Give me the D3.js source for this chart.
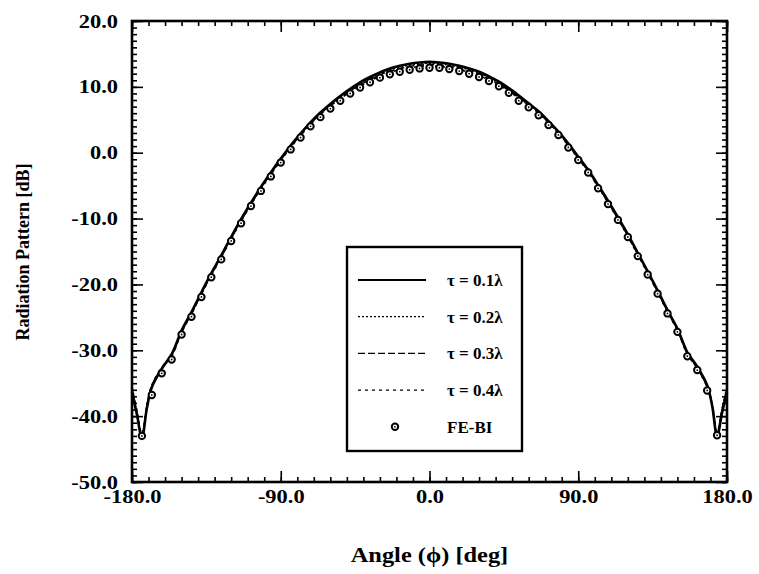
<!DOCTYPE html>
<html>
<head>
<meta charset="utf-8">
<script src="https://cdn.jsdelivr.net/npm/d3@7"></script>
<style>
	body { margin: 0; background: #fff; }
	text { font-family: "Liberation Serif", "Times New Roman", serif; font-weight: bold; fill: #000; }
</style>
</head>
<body>
<div id="chart"></div>
<script>
// tick values
const angleTicks = [-180, -90, 0, 90, 180];
const dbTicks = [-50, -40, -30, -20, -10, 0, 10, 20];

// computed curves (angle grid shared by the four thickness cases)
const lineAngles = [-180, -177, -174, -171, -168, -162, -156, -150, -144, -138, -132, -126, -120, -114, -108, -102, -96, -90, -84, -78, -72, -66, -60, -54, -48, -42, -36, -30, -24, -18, -12, -6, 0, 6, 12, 18, 24, 30, 36, 42, 48, 54, 60, 66, 72, 78, 84, 90, 96, 102, 108, 114, 120, 126, 132, 138, 144, 150, 156, 162, 168, 171, 174, 177, 180];
const tau01 = [-36.3, -39.8, -43.3, -38.8, -35.6, -32.8, -30.6, -27.0, -24.2, -21.2, -18.3, -15.6, -12.8, -10.1, -7.6, -5.2, -3.0, -0.9, 1.1, 2.9, 4.6, 6.1, 7.4, 8.6, 9.7, 10.7, 11.5, 12.2, 12.8, 13.2, 13.5, 13.7, 13.8, 13.7, 13.5, 13.2, 12.8, 12.3, 11.6, 10.8, 9.8, 8.7, 7.5, 6.3, 4.8, 3.2, 1.4, -0.6, -2.6, -4.9, -7.3, -9.8, -12.4, -15.2, -18.0, -20.9, -23.9, -26.7, -30.3, -32.5, -35.3, -38.4, -43.0, -39.5, -36.3];
const tau02 = [-36.0, -39.6, -43.1, -38.6, -35.5, -32.7, -30.7, -27.1, -24.3, -21.3, -18.4, -15.7, -12.9, -10.2, -7.7, -5.3, -3.1, -1.0, 1.0, 2.8, 4.5, 6.0, 7.3, 8.5, 9.6, 10.5, 11.3, 12.0, 12.6, 13.0, 13.3, 13.5, 13.6, 13.5, 13.3, 13.0, 12.6, 12.1, 11.4, 10.6, 9.7, 8.6, 7.4, 6.2, 4.7, 3.1, 1.3, -0.7, -2.7, -5.0, -7.4, -9.9, -12.5, -15.3, -18.1, -21.0, -24.0, -26.8, -30.4, -32.6, -35.4, -38.3, -42.9, -39.3, -36.0];
const tau03 = [-35.8, -39.4, -42.9, -38.5, -35.4, -32.7, -30.8, -27.2, -24.4, -21.4, -18.5, -15.8, -13.0, -10.3, -7.8, -5.4, -3.2, -1.1, 0.9, 2.7, 4.4, 5.9, 7.2, 8.3, 9.4, 10.3, 11.1, 11.8, 12.4, 12.8, 13.1, 13.3, 13.4, 13.3, 13.1, 12.8, 12.4, 11.9, 11.2, 10.4, 9.5, 8.4, 7.3, 6.1, 4.6, 3.0, 1.2, -0.8, -2.8, -5.1, -7.5, -10.0, -12.6, -15.4, -18.2, -21.1, -24.1, -26.9, -30.5, -32.7, -35.5, -38.2, -42.7, -39.1, -35.8];
const tau04 = [-35.6, -39.2, -42.7, -38.3, -35.3, -32.6, -30.9, -27.3, -24.5, -21.5, -18.6, -15.9, -13.1, -10.4, -7.9, -5.5, -3.3, -1.2, 0.8, 2.6, 4.3, 5.8, 7.1, 8.2, 9.2, 10.1, 10.9, 11.6, 12.2, 12.6, 12.9, 13.1, 13.2, 13.1, 12.9, 12.6, 12.2, 11.7, 11.0, 10.2, 9.3, 8.3, 7.2, 6.0, 4.5, 2.9, 1.1, -0.9, -2.9, -5.2, -7.6, -10.1, -12.7, -15.5, -18.3, -21.2, -24.2, -27.0, -30.6, -32.8, -35.6, -38.1, -42.5, -38.9, -35.6];

// FE-BI reference points
const febiAngles = [-174, -168, -162, -156, -150, -144, -138, -132, -126, -120, -114, -108, -102, -96, -90, -84, -78, -72, -66, -60, -54, -48, -42, -36, -30, -24, -18, -12, -6, 0, 6, 12, 18, 24, 30, 36, 42, 48, 54, 60, 66, 72, 78, 84, 90, 96, 102, 108, 114, 120, 126, 132, 138, 144, 150, 156, 162, 168, 174];
const febiValues = [-43.0, -36.8, -33.5, -31.4, -27.6, -24.9, -21.9, -18.9, -16.2, -13.4, -10.7, -8.1, -5.8, -3.6, -1.5, 0.5, 2.3, 4.0, 5.4, 6.7, 7.9, 9.0, 9.9, 10.7, 11.4, 11.9, 12.3, 12.6, 12.8, 12.9, 12.9, 12.7, 12.4, 12.0, 11.5, 10.9, 10.1, 9.1, 7.9, 6.9, 5.7, 4.2, 2.7, 0.8, -1.1, -3.0, -5.4, -7.8, -10.2, -12.8, -15.7, -18.5, -21.4, -24.4, -27.2, -30.9, -33.0, -36.1, -42.9];

const series = [
	{ label: "τ = 0.1λ", values: tau01, dash: null, width: 2.6 },
	{ label: "τ = 0.2λ", values: tau02, dash: "2,2", width: 1.6 },
	{ label: "τ = 0.3λ", values: tau03, dash: "7,3", width: 1.6 },
	{ label: "τ = 0.4λ", values: tau04, dash: "3,4", width: 1.6 },
];

const W = 759, H = 574;
const margin = { top: 21, right: 32, bottom: 92, left: 132 },
	width = W - margin.left - margin.right,
	height = H - margin.top - margin.bottom;

const svg = d3.select("#chart")
	.append("svg")
	.attr("width", W)
	.attr("height", H)
	.append("g")
	.attr("transform", `translate(${margin.left},${margin.top})`);

const x = d3.scaleLinear().domain([-180, 180]).range([0, width]);
const y = d3.scaleLinear().domain([-50, 20]).range([height, 0]);

const fmt = d => d.toFixed(1);
const minorX = d3.range(-180, 181, 10);
const minorY = d3.range(-50, 21, 1);

// the scanned figure is a bit wider than tall, so stretch text horizontally
function widen(sel, k) {
	sel.each(function () {
		const w = this.getComputedTextLength();
		d3.select(this).attr("textLength", w * k).attr("lengthAdjust", "spacingAndGlyphs");
	});
}

// minor ticks on all four sides (pointing inward)
svg.append("g").attr("transform", `translate(0,${height})`)
	.call(d3.axisBottom(x).tickValues(minorX).tickSize(-5).tickFormat(""));
svg.append("g")
	.call(d3.axisTop(x).tickValues(minorX).tickSize(-5).tickFormat(""));
svg.append("g")
	.call(d3.axisLeft(y).tickValues(minorY).tickSize(-5).tickFormat(""));
svg.append("g").attr("transform", `translate(${width},0)`)
	.call(d3.axisRight(y).tickValues(minorY).tickSize(-5).tickFormat(""));

// major ticks + labels
svg.append("g").attr("transform", `translate(0,${height})`)
	.call(d3.axisBottom(x).tickValues(angleTicks).tickSize(-11).tickPadding(8).tickFormat(fmt));
svg.append("g")
	.call(d3.axisTop(x).tickValues(angleTicks).tickSize(-11).tickFormat(""));
svg.append("g")
	.call(d3.axisLeft(y).tickValues(dbTicks).tickSize(-11).tickPadding(14).tickFormat(fmt));
svg.append("g").attr("transform", `translate(${width},0)`)
	.call(d3.axisRight(y).tickValues(dbTicks).tickSize(-11).tickFormat(""));

svg.selectAll(".domain").remove();
svg.selectAll(".tick line").attr("stroke", "#000").attr("stroke-width", 1.6);
svg.selectAll(".tick text")
	.style("font-size", "19px")
	.style("font-family", "Liberation Serif")
	.style("font-weight", "bold")
	.call(widen, 1.18);

// frame
svg.append("rect")
	.attr("width", width)
	.attr("height", height)
	.attr("fill", "none")
	.attr("stroke", "#000")
	.attr("stroke-width", 2.6);

// curves
const line = d3.line()
	.x((d, i) => x(lineAngles[i]))
	.y(d => y(d))
	.curve(d3.curveCatmullRom);

series.forEach(s => {
	svg.append("path")
		.datum(s.values)
		.attr("d", line)
		.attr("fill", "none")
		.attr("stroke", "#000")
		.attr("stroke-width", s.width)
		.attr("stroke-dasharray", s.dash);
});

// FE-BI markers
function marker(g, cx, cy) {
	g.append("circle").attr("cx", cx).attr("cy", cy).attr("r", 3.2)
		.attr("fill", "#fff").attr("stroke", "#000").attr("stroke-width", 2);
	g.append("circle").attr("cx", cx).attr("cy", cy).attr("r", 0.9).attr("fill", "#000");
}
const mk = svg.append("g");
febiAngles.forEach((a, i) => marker(mk, x(a), y(febiValues[i])));

// legend
const lg = svg.append("g").attr("transform", `translate(${347 - margin.left},${247 - margin.top})`);
lg.append("rect")
	.attr("width", 175)
	.attr("height", 204)
	.attr("fill", "#fff")
	.attr("stroke", "#000")
	.attr("stroke-width", 2.4);

const rowY = i => 33 + i * 36.7;
series.forEach((s, i) => {
	lg.append("line")
		.attr("x1", 11).attr("x2", 79)
		.attr("y1", rowY(i)).attr("y2", rowY(i))
		.attr("stroke", "#000")
		.attr("stroke-width", s.width - 0.4)
		.attr("stroke-dasharray", s.dash);
	lg.append("text")
		.attr("x", 100)
		.attr("y", rowY(i))
		.attr("dy", "0.35em")
		.style("font-size", "17px")
		.text(s.label);
});
marker(lg, 48, rowY(4));
lg.append("text")
	.attr("x", 100)
	.attr("y", rowY(4))
	.attr("dy", "0.35em")
	.style("font-size", "17px")
	.text("FE-BI");

// axis titles
svg.append("text")
	.attr("text-anchor", "middle")
	.attr("x", width / 2)
	.attr("y", height + 80)
	.style("font-size", "20px")
	.text("Angle (ϕ) [deg]")
	.call(widen, 1.22);

svg.append("text")
	.attr("text-anchor", "middle")
	.attr("transform", "rotate(-90)")
	.attr("x", -(252 - margin.top))
	.attr("y", -margin.left + 29)
	.style("font-size", "18px")
	.text("Radiation Pattern [dB]");
</script>
</body>
</html>
